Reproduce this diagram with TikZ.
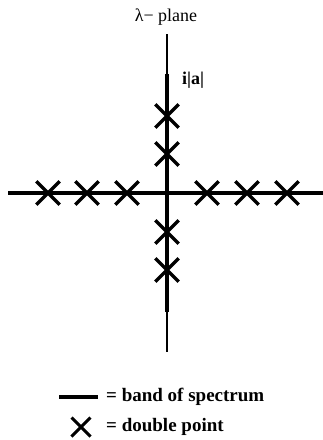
\documentclass[tikz,border=0pt]{standalone}
\usepackage{fontspec}
\setmainfont{Liberation Serif}
\usetikzlibrary{shapes.misc}
\begin{document}
\begin{tikzpicture}[x=1pt,y=-1pt,
  dpt/.style={cross out,draw,line width=3.3pt,minimum size=20pt,inner sep=0pt},
  band/.style={line width=3.8pt},
  thinaxis/.style={line width=1.2pt},
  lbl/.style={inner sep=0pt,font=\fontsize{18}{20}\selectfont},
  lgd/.style={inner sep=0pt,anchor=west,font=\bfseries\fontsize{19}{22}\selectfont}]
\useasboundingbox (0,0) rectangle (323,440);
% axes
\coordinate (vt) at (167,34);
\coordinate (vb) at (167,352);
\coordinate (bt) at (167,74);
\coordinate (bb) at (167,312);
\coordinate (hl) at (8,193);
\coordinate (hr) at (323,193);
\draw[thinaxis] (vt) -- (vb);
\draw[band] (bt) -- (bb);
\draw[band] (hl) -- (hr);
% double points
\foreach \n/\px in {a/48,b/87,c/127,d/207,e/247,f/287}
  \node[dpt] (h\n) at (\px,193) {};
\foreach \n/\py in {a/116,b/154,c/232,d/270}
  \node[dpt] (v\n) at (167,\py) {};
% labels
\node[lbl] (title) at (166,17) {λ− plane};
\node[lbl,anchor=west,font=\bfseries\fontsize{18}{20}\selectfont] (ia) at (182,80) {i|a|};
% legend
\coordinate (l1) at (59,397);
\coordinate (l2) at (98,397);
\draw[band] (l1) -- (l2);
\node[lgd] (t1) at (106,397) {= band of spectrum};
\node[dpt,line width=3pt,minimum size=16pt] (lx) at (81,427) {};
\node[lgd] (t2) at (106,427) {= double point};
\end{tikzpicture}
\end{document}
